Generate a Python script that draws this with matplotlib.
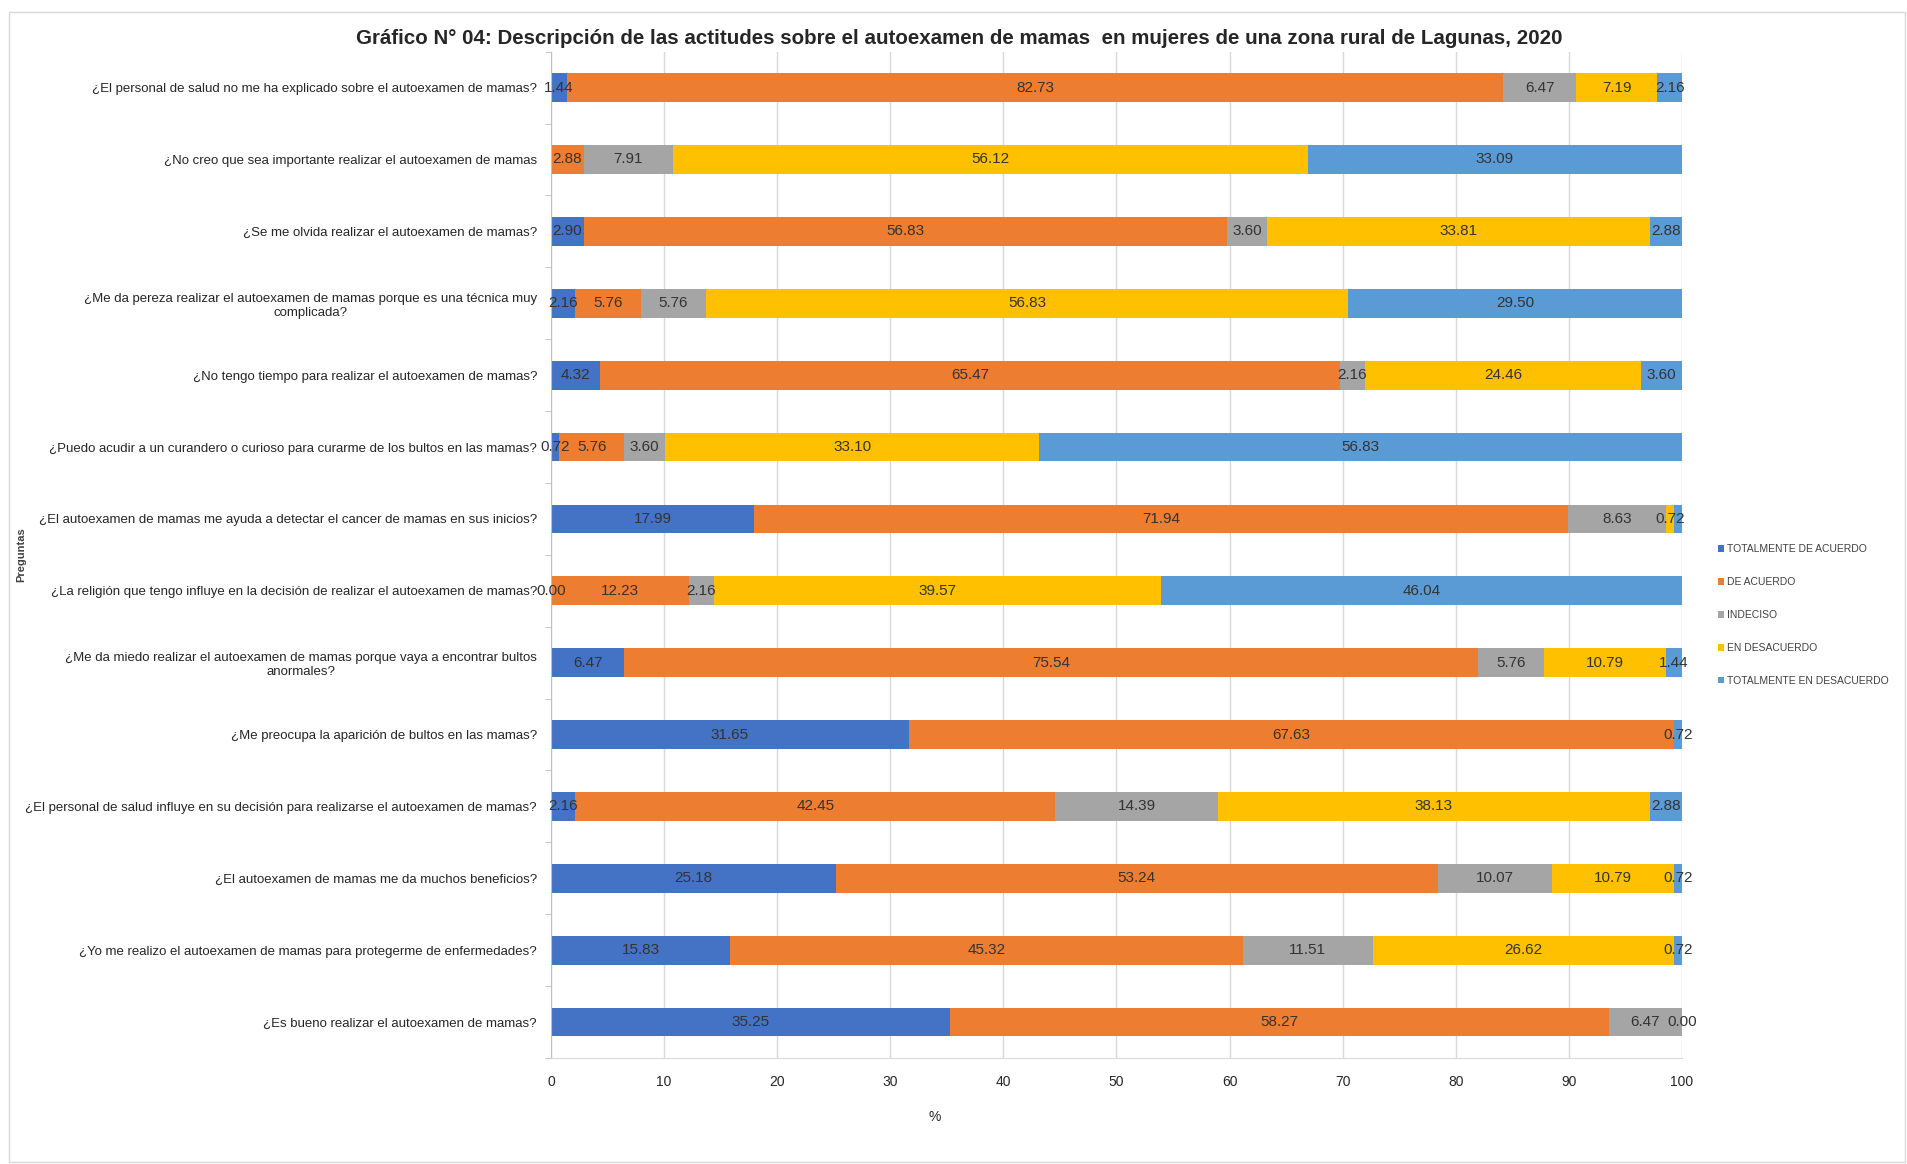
import numpy as np
import matplotlib
matplotlib.use("Agg")
import matplotlib.pyplot as plt
from matplotlib.patches import Rectangle

plt.rcParams['font.family'] = ['Liberation Sans', 'DejaVu Sans']

preguntas = [
    "¿El personal de salud no me ha explicado sobre el autoexamen de mamas?",
    "¿No creo que sea importante realizar el autoexamen de mamas",
    "¿Se me olvida realizar el autoexamen de mamas?",
    "¿Me da pereza realizar el autoexamen de mamas porque es una técnica muy\ncomplicada?",
    "¿No tengo tiempo para realizar el autoexamen de mamas?",
    "¿Puedo acudir a un curandero o curioso para curarme de los bultos en las mamas?",
    "¿El autoexamen de mamas me ayuda a detectar el cancer de mamas en sus inicios?",
    "¿La religión que tengo influye en la decisión de realizar el autoexamen de mamas?",
    "¿Me da miedo realizar el autoexamen de mamas porque vaya a encontrar bultos\nanormales?",
    "¿Me preocupa la aparición de bultos en las mamas?",
    "¿El personal de salud influye en su decisión para realizarse el autoexamen de mamas?",
    "¿El autoexamen de mamas me da muchos beneficios?",
    "¿Yo me realizo el autoexamen de mamas para protegerme de enfermedades?",
    "¿Es bueno realizar el autoexamen de mamas?",
]

# None = celda vacía (sin etiqueta)
totalmente_de_acuerdo = [1.44, None, 2.90, 2.16, 4.32, 0.72, 17.99, 0.00, 6.47, 31.65, 2.16, 25.18, 15.83, 35.25]
de_acuerdo = [82.73, 2.88, 56.83, 5.76, 65.47, 5.76, 71.94, 12.23, 75.54, 67.63, 42.45, 53.24, 45.32, 58.27]
indeciso = [6.47, 7.91, 3.60, 5.76, 2.16, 3.60, 8.63, 2.16, 5.76, None, 14.39, 10.07, 11.51, 6.47]
en_desacuerdo = [7.19, 56.12, 33.81, 56.83, 24.46, 33.10, 0.72, 39.57, 10.79, None, 38.13, 10.79, 26.62, None]
totalmente_en_desacuerdo = [2.16, 33.09, 2.88, 29.50, 3.60, 56.83, 0.72, 46.04, 1.44, 0.72, 2.88, 0.72, 0.72, 0.00]

series = [
    ("TOTALMENTE DE ACUERDO", totalmente_de_acuerdo, "#4472C4"),
    ("DE ACUERDO", de_acuerdo, "#ED7D31"),
    ("INDECISO", indeciso, "#A5A5A5"),
    ("EN DESACUERDO", en_desacuerdo, "#FFC000"),
    ("TOTALMENTE EN DESACUERDO", totalmente_en_desacuerdo, "#5B9BD5"),
]
# etiquetas tapadas por la de al lado (serie, fila)
ocultas = {(4, 6)}

fig = plt.figure(figsize=(19.07, 11.64), dpi=100)
ax = fig.add_axes([0.2889, 0.0911, 0.5931, 0.8645])

y = np.arange(len(preguntas))
left = np.zeros(len(preguntas))
for k, (name, vals, color) in enumerate(series):
    w = np.array([0.0 if v is None else v for v in vals])
    ax.barh(y, w, left=left, height=0.4, color=color, label=name, zorder=2)
    for i, v in enumerate(vals):
        if v is None or (k, i) in ocultas:
            continue
        ax.text(left[i] + v / 2, y[i], f"{v:.2f}", ha='center', va='center',
                fontsize=11, color='#333333', zorder=3)
    left += w

ax.set_xlim(0, 100)
ax.set_ylim(len(preguntas) - 0.5, -0.5)
ax.set_xticks(np.arange(0, 101, 10))
ax.set_yticks(y)
ax.set_yticklabels(preguntas, fontsize=9.5, color='#262626', multialignment='center')
ax.set_yticks(np.arange(len(preguntas) + 1) - 0.5, minor=True)
ax.tick_params(axis='y', which='major', length=0, pad=10)
ax.tick_params(axis='y', which='minor', length=4, color='#BFBFBF', direction='out')
ax.tick_params(axis='x', length=0, labelsize=10, labelcolor='#262626', pad=12)
ax.xaxis.grid(True, color='#D9D9D9', linewidth=1, zorder=0)
ax.set_axisbelow(True)
for s in ['top', 'right']:
    ax.spines[s].set_visible(False)
ax.spines['left'].set_color('#BFBFBF')
ax.spines['bottom'].set_color('#D9D9D9')

ax.set_ylabel("Preguntas", fontsize=8, fontweight='bold', color='#404040')
ax.yaxis.set_label_coords(-0.464, 0.5)
fig.text(0.49, 1 - 1117 / 1164, "%", ha='center', va='center', fontsize=10, color='#262626')

fig.text(0.503, 1 - 38 / 1164, "Gráfico N° 04: Descripción de las actitudes sobre el autoexamen de mamas  en mujeres de una zona rural de Lagunas, 2020",
         ha='center', va='center', fontsize=14.8, fontweight='bold', color='#262626')

ax.legend(loc='center left', bbox_to_anchor=(0.896, 1 - 615 / 1164), bbox_transform=fig.transFigure,
          frameon=False, fontsize=7.5, handlelength=0.6, handleheight=0.6, handletextpad=0.3,
          labelspacing=2.2, labelcolor='#404040')

fig.patches.append(Rectangle((9 / 1907, 0.002), 1 - 9 / 1907 - 0.001, 1 - 12 / 1164 - 0.002,
                             transform=fig.transFigure, fill=False, edgecolor='#D9D9D9', linewidth=1))

fig.savefig("out.png", dpi=100)
